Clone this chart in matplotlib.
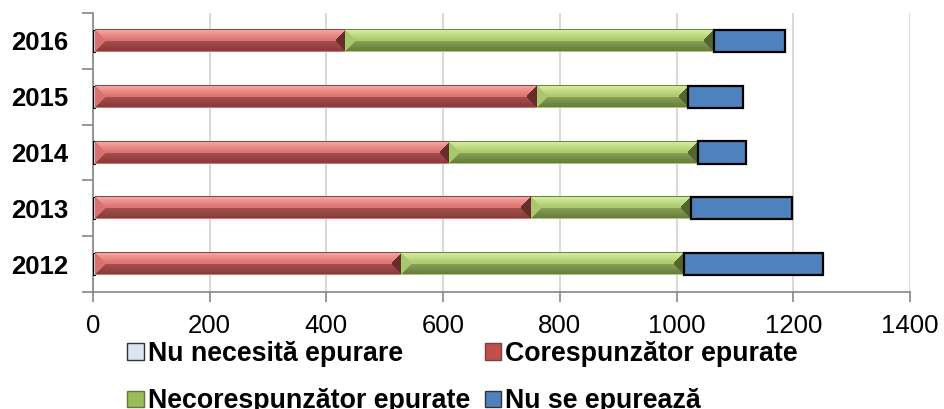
import numpy as np
import matplotlib.pyplot as plt
from matplotlib.colors import to_rgb
from matplotlib.patches import Patch

# ---- data ---- #
years = ["2012", "2013", "2014", "2015", "2016"]
nu_necesita = [3, 3, 3, 3, 3]
corespunzator = [525, 747, 607, 757, 429]
necorespunzator = [484, 274, 426, 259, 632]
nu_se_epureaza = [239, 174, 83, 95, 121]

labels = ["Nu necesită epurare", "Corespunzător epurate",
          "Necorespunzător epurate", "Nu se epurează"]

plt.rcParams["font.family"] = ["Liberation Sans", "DejaVu Sans"]

fig = plt.figure(figsize=(9.44, 4.09), dpi=100)
ax = fig.add_axes([93 / 944, 1 - 292 / 409, (910 - 93) / 944, (292 - 13) / 409])
ax.set_xlim(0, 1400)
ax.set_ylim(-0.5, 4.5)

y = np.arange(len(years))
h = 0.4

# bevel colours: top edge, top centre, bottom centre, bottom edge, left, right
red_bevel = ["#f7aaa7", "#dc726f", "#a84d4b", "#7e3c3a", "#d8706d", "#6a2c2b"]
green_bevel = ["#d8f0a2", "#acc96d", "#88a153", "#62783b", "#a9c76c", "#51652c"]


def bevel_bars(bars, cols):
    c = [np.array(to_rgb(k)) for k in cols]
    for p in bars:
        x0, y0, w, hh = p.get_x(), p.get_y(), p.get_width(), p.get_height()
        (px0, py0), (px1, py1) = ax.transData.transform([(x0, y0), (x0 + w, y0 + hh)])
        W = max(int(round(px1 - px0)), 2)
        H = max(int(round(py1 - py0)), 2)
        u = np.arange(W)[None, :] + 0.5
        v = np.arange(H)[:, None] + 0.5  # from bottom
        d_top = np.broadcast_to(H - v, (H, W))
        d_bot = np.broadcast_to(v, (H, W))
        d_left = np.broadcast_to(u, (H, W))
        d_right = np.broadcast_to(W - u, (H, W))
        facet = np.argmin(np.stack([d_top, d_bot, d_left, d_right]), axis=0)
        half = H / 2
        t_top = np.clip(d_top / half, 0, 1)[..., None]
        t_bot = np.clip(d_bot / half, 0, 1)[..., None]
        img = np.zeros((H, W, 3))
        top_c = c[0] * (1 - t_top) + c[1] * t_top
        bot_c = c[3] * (1 - t_bot) + c[2] * t_bot
        img[facet == 0] = top_c[facet == 0]
        img[facet == 1] = bot_c[facet == 1]
        img[facet == 2] = c[4]
        img[facet == 3] = c[5]
        # thin edge lines top and bottom
        img[-1, :] = c[3] * 0.9 + c[0] * 0.1
        img[0, :] = c[1]
        ax.imshow(img, extent=[x0, x0 + w, y0, y0 + hh], origin="lower",
                  aspect="auto", interpolation="nearest", zorder=3)


b0 = ax.barh(y, nu_necesita, height=h, color="#dce6f2", edgecolor="black", lw=0.8, zorder=3)
left = np.array(nu_necesita)
b1 = ax.barh(y, corespunzator, left=left, height=h, color="#c0504d", zorder=2)
left = left + np.array(corespunzator)
b2 = ax.barh(y, necorespunzator, left=left, height=h, color="#9bbb59", zorder=2)
left = left + np.array(necorespunzator)
b3 = ax.barh(y, nu_se_epureaza, left=left, height=h, color="#4f81bd",
             edgecolor="black", lw=1.6, zorder=4)

bevel_bars(b1, red_bevel)
bevel_bars(b2, green_bevel)

ax.set_xlim(0, 1400)
ax.set_ylim(-0.5, 4.5)

# axes styling
ax.set_xticks(np.arange(0, 1401, 200))
ax.xaxis.grid(True, color="#d9d9d9", lw=1.5, zorder=0)
ax.set_axisbelow(True)
ax.tick_params(axis="x", length=7, color="#868686", width=1.2, labelsize=18.5, pad=9)
ax.set_yticks(np.arange(-0.5, 4.6, 1))
ax.set_yticklabels([])
ax.set_yticks(y, minor=True)
ax.set_yticklabels(years, minor=True, fontsize=18.5, fontweight="bold")
ax.tick_params(axis="y", which="major", length=8, color="#868686", width=1.2)
ax.tick_params(axis="y", which="minor", length=0, pad=18)
for s in ["top", "right"]:
    ax.spines[s].set_visible(False)
for s in ["left", "bottom"]:
    ax.spines[s].set_color("#868686")
    ax.spines[s].set_linewidth(1.2)

handles = [
    Patch(facecolor="#dce6f2", edgecolor="#333333", lw=1),
    Patch(facecolor="#c0504d", edgecolor="#7e3c3a", lw=1),
    Patch(facecolor="#9bbb59", edgecolor="#62783b", lw=1),
    Patch(facecolor="#4f81bd", edgecolor="#333333", lw=1),
]
order = [0, 2, 1, 3]
fig.legend([handles[i] for i in order], [labels[i] for i in order],
           ncol=2, loc="upper left", bbox_to_anchor=(127 / 944, 1 - 341 / 409),
           frameon=False, handlelength=0.62, handleheight=0.56, handletextpad=0.15,
           columnspacing=0.55, labelspacing=0.8, borderpad=0, borderaxespad=0,
           prop={"size": 19.3, "weight": "bold"})

fig.savefig("out.png", dpi=100)
